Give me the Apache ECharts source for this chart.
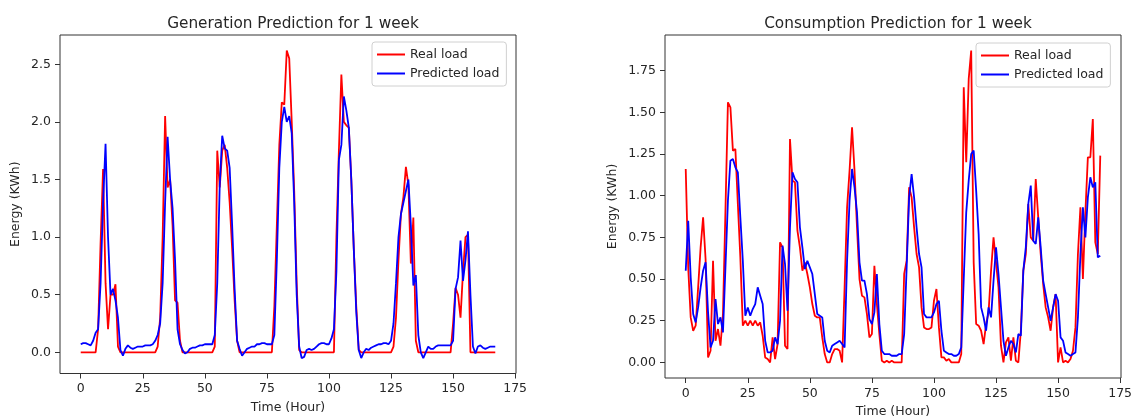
<!DOCTYPE html>
<html>
<head>
<meta charset="utf-8">
<script src="https://cdn.jsdelivr.net/npm/echarts@6/dist/echarts.min.js"></script>
<style>
  html, body { margin: 0; padding: 0; background: #fff; }
  #chart { width: 1131px; height: 416px; }
</style>
</head>
<body>
<div id="chart"></div>
<script>
// Hourly energy over one week (hours 0..167)
const genReal = [
  0, 0, 0, 0, 0, 0, 0, 0.2, 0.95, 1.59, 0.6, 0.2, 0.5, 0.5, 0.59, 0.05,
  0, 0, 0, 0, 0, 0, 0, 0, 0, 0, 0, 0, 0, 0, 0,
  0.05, 0.3, 1.0, 2.05, 1.43, 1.5, 1.1, 0.45, 0.43, 0.1,
  0, 0, 0, 0, 0, 0, 0, 0, 0, 0, 0, 0, 0,
  0.05, 1.75, 1.43, 1.75, 1.8, 1.6, 1.3, 0.9, 0.45, 0.1,
  0, 0, 0, 0, 0, 0, 0, 0, 0, 0, 0, 0, 0, 0,
  0.4, 1.1, 1.8, 2.17, 2.15, 2.62, 2.55, 2.0, 1.4, 0.6, 0.02,
  0, 0, 0, 0, 0, 0, 0, 0, 0, 0, 0, 0, 0, 0,
  1.0, 1.75, 2.41, 2.0, 1.97, 1.95, 1.5, 0.9, 0.4, 0.02,
  0, 0, 0, 0, 0, 0, 0, 0, 0, 0, 0, 0, 0,
  0.05, 0.3, 0.8, 1.2, 1.35, 1.61, 1.45, 0.77, 1.17, 0.1,
  0, 0, 0, 0, 0, 0, 0, 0, 0, 0, 0, 0, 0, 0,
  0.25, 0.56, 0.5, 0.3, 0.7, 1.0, 1.02,
  0, 0, 0, 0, 0, 0, 0, 0, 0, 0, 0
];

const genPred = [
  0.07, 0.08, 0.08, 0.07, 0.06, 0.1, 0.17, 0.2, 0.6, 1.3, 1.81, 1.0, 0.5, 0.55, 0.45, 0.3,
  0.02, -0.03, 0.03, 0.06, 0.04, 0.03, 0.04, 0.05, 0.05, 0.05, 0.06, 0.06, 0.06, 0.07,
  0.1, 0.15, 0.25, 0.6, 1.3, 1.87, 1.5, 1.25, 0.8, 0.2,
  0.07, 0.02, -0.01, 0.0, 0.03, 0.04, 0.04, 0.05, 0.06, 0.06, 0.07, 0.07, 0.07, 0.07,
  0.15, 0.6, 1.45, 1.88, 1.77, 1.75, 1.6, 1.1, 0.55, 0.1,
  0.03, -0.03, 0.0, 0.03, 0.04, 0.05, 0.05, 0.07, 0.07, 0.08, 0.08, 0.07, 0.07, 0.07,
  0.15, 0.8, 1.6, 2.0, 2.13, 2.0, 2.05, 1.9, 1.3, 0.5,
  0.05, -0.05, -0.04, 0.02, 0.03, 0.02, 0.03, 0.05, 0.07, 0.08, 0.08, 0.07, 0.07, 0.12,
  0.2, 0.7, 1.67, 1.8, 2.22, 2.1, 1.95, 1.5, 0.9, 0.35,
  0.02, -0.05, 0.0, 0.03, 0.02, 0.04, 0.05, 0.06, 0.07, 0.07, 0.08, 0.08, 0.07,
  0.1, 0.25, 0.6, 1.0, 1.2, 1.3, 1.4, 1.5, 1.1, 0.58, 0.67, 0.15,
  0.0, -0.05, 0.0, 0.05, 0.03, 0.03, 0.05, 0.06, 0.06, 0.06, 0.06, 0.06, 0.06,
  0.1, 0.55, 0.65, 0.97, 0.62, 0.8, 1.05, 0.5,
  0.05, -0.01, 0.05, 0.06, 0.04, 0.03, 0.04, 0.05, 0.05, 0.05
];

const conReal = [
  1.16, 0.57, 0.27, 0.19, 0.22, 0.45, 0.69, 0.87, 0.62, 0.03,
  0.07, 0.61, 0.13, 0.2, 0.1, 0.29, 0.91, 1.56, 1.53, 1.27,
  1.28, 0.95, 0.63, 0.22, 0.25, 0.22, 0.25, 0.22, 0.25, 0.22,
  0.24, 0.16, 0.03, 0.02, 0.0, 0.15, 0.02, 0.11, 0.72, 0.69,
  0.1, 0.08, 1.34, 1.09, 1.08, 0.79, 0.69, 0.55, 0.6, 0.53,
  0.45, 0.35, 0.28, 0.27, 0.27, 0.15, 0.05, 0.0, 0.0, 0.05,
  0.08, 0.08, 0.07, 0.0, 0.45, 0.93, 1.15, 1.41, 1.15, 0.81,
  0.5, 0.4, 0.39, 0.29, 0.15, 0.17, 0.58, 0.35, 0.17, 0.01,
  0.0, 0.01, 0.0, 0.01, 0.0, 0.0, 0.0, 0.0, 0.53, 0.61,
  1.05, 0.99, 0.81, 0.65, 0.57, 0.33, 0.21, 0.2, 0.2, 0.21,
  0.37, 0.44, 0.21, 0.03, 0.03, 0.01, 0.02, 0.0, 0.0, 0.0,
  0.0, 0.05, 1.65, 1.2, 1.7, 1.87, 0.6, 0.23, 0.22, 0.19,
  0.11, 0.23, 0.3, 0.55, 0.75, 0.6, 0.45, 0.1, 0.0, 0.12,
  0.15, 0.01, 0.15, 0.01, 0.0, 0.19, 0.55, 0.65, 0.95, 0.75,
  0.73, 1.1, 0.87, 0.65, 0.47, 0.33, 0.27, 0.19, 0.33, 0.41,
  0.0, 0.09, 0.0, 0.01, 0.0, 0.02, 0.07, 0.21, 0.65, 0.93,
  0.5, 0.9, 1.23, 1.23, 1.46, 0.72, 0.65, 1.24
];

const conPred = [
  0.55, 0.85, 0.51, 0.29, 0.24, 0.33, 0.45, 0.55, 0.6, 0.3,
  0.09, 0.13, 0.38, 0.23, 0.27, 0.18, 0.57, 0.97, 1.21, 1.22,
  1.17, 1.14, 0.87, 0.61, 0.28, 0.33, 0.28, 0.32, 0.35, 0.45,
  0.4, 0.35, 0.13, 0.06, 0.06, 0.07, 0.15, 0.11, 0.25, 0.7,
  0.59, 0.31, 0.81, 1.14, 1.1, 1.08, 0.81, 0.69, 0.56, 0.61,
  0.57, 0.53, 0.41, 0.29, 0.28, 0.27, 0.13, 0.07, 0.06, 0.1,
  0.11, 0.12, 0.13, 0.11, 0.09, 0.61, 0.97, 1.16, 1.05, 0.9,
  0.6, 0.49, 0.49, 0.41, 0.26, 0.23, 0.3, 0.53, 0.23, 0.07,
  0.05, 0.05, 0.05, 0.04, 0.04, 0.04, 0.05, 0.05, 0.17, 0.57,
  0.99, 1.13, 0.99, 0.81, 0.65, 0.57, 0.29, 0.27, 0.27, 0.27,
  0.3, 0.35, 0.37, 0.19, 0.07, 0.06, 0.05, 0.05, 0.04, 0.04,
  0.05, 0.09, 0.5, 0.9, 1.09, 1.25, 1.27, 1.03, 0.77, 0.33,
  0.27, 0.19, 0.33, 0.27, 0.49, 0.69, 0.53, 0.33, 0.13, 0.04,
  0.09, 0.13, 0.11, 0.06, 0.17, 0.16, 0.55, 0.69, 0.95, 1.06,
  0.73, 0.71, 0.87, 0.69, 0.49, 0.41, 0.33, 0.25, 0.33, 0.41,
  0.37, 0.15, 0.13, 0.06, 0.05, 0.04, 0.05, 0.06, 0.27, 0.65,
  0.93, 0.75, 0.99, 1.11, 1.05, 1.08, 0.63, 0.64
];

const hourTicks = [0, 25, 50, 75, 100, 125, 150, 175];
const genTicks = [0, 0.5, 1.0, 1.5, 2.0, 2.5];
const conTicks = [0, 0.25, 0.5, 0.75, 1.0, 1.25, 1.5, 1.75];

const titles = ['Generation Prediction for 1 week', 'Consumption Prediction for 1 week'];
const seriesNames = ['Real load', 'Predicted load'];

const FONT = 'DejaVu Sans';
const TEXT = '#262626';

const toPairs = arr => arr.map((v, i) => [i, v]);

function xAxisFor(gridIndex, gap) {
  return {
    type: 'value', gridIndex,
    min: -8.35, max: 175.35,
    name: 'Time (Hour)', nameLocation: 'middle', nameGap: gap,
    nameTextStyle: { fontFamily: FONT, fontSize: 12.5, color: TEXT },
    axisLine: { show: false, onZero: false },
    axisTick: { show: true, length: 5, lineStyle: { color: '#333' }, customValues: hourTicks },
    axisLabel: { fontFamily: FONT, fontSize: 12.5, color: TEXT, margin: 9, customValues: hourTicks },
    splitLine: { show: false }
  };
}

function yAxisFor(gridIndex, min, max, ticks, digits, gap) {
  return {
    type: 'value', gridIndex, min, max,
    name: 'Energy (KWh)', nameLocation: 'middle', nameGap: gap, nameRotate: 90,
    nameTextStyle: { fontFamily: FONT, fontSize: 12.5, color: TEXT },
    axisLine: { show: false, onZero: false },
    axisTick: { show: true, length: 5, lineStyle: { color: '#333' }, customValues: ticks },
    axisLabel: {
      fontFamily: FONT, fontSize: 12.5, color: TEXT, margin: 9, customValues: ticks,
      formatter: v => Number(v).toFixed(digits)
    },
    splitLine: { show: false }
  };
}

function lineSeries(name, data, color, idx) {
  return {
    type: 'line', name, data: toPairs(data),
    xAxisIndex: idx, yAxisIndex: idx,
    showSymbol: false, symbol: 'none',
    lineStyle: { color, width: 1.8 },
    itemStyle: { color },
    animation: false
  };
}

function legendAt(left, top) {
  return {
    data: seriesNames,
    orient: 'vertical', left, top,
    icon: 'rect', itemWidth: 28, itemHeight: 2, itemGap: 6,
    padding: [6, 7, 6, 5],
    backgroundColor: 'rgba(255,255,255,0.85)',
    borderColor: '#d0d0d0', borderWidth: 1, borderRadius: 3,
    textStyle: { fontFamily: FONT, fontSize: 12.5, color: TEXT },
    selectedMode: false
  };
}

const chart = echarts.init(document.getElementById('chart'), null, { renderer: 'canvas' });

chart.setOption({
  backgroundColor: '#ffffff',
  animation: false,
  title: [
    { text: titles[0], left: 288, top: 12, textAlign: 'center',
      textStyle: { fontFamily: FONT, fontSize: 15.3, fontWeight: 'normal', color: TEXT } },
    { text: titles[1], left: 893, top: 12, textAlign: 'center',
      textStyle: { fontFamily: FONT, fontSize: 15.3, fontWeight: 'normal', color: TEXT } }
  ],
  grid: [
    { left: 60, top: 35, width: 456, height: 338.5, outerBoundsMode: 'none', containLabel: false,
      show: true, borderColor: '#333', borderWidth: 1, backgroundColor: 'transparent' },
    { left: 665, top: 35, width: 456, height: 343, outerBoundsMode: 'none', containLabel: false,
      show: true, borderColor: '#333', borderWidth: 1, backgroundColor: 'transparent' }
  ],
  xAxis: [xAxisFor(0, 28), xAxisFor(1, 27)],
  yAxis: [
    yAxisFor(0, -0.184, 2.754, genTicks, 1, 38),
    yAxisFor(1, -0.0935, 1.9635, conTicks, 2, 46)
  ],
  legend: [legendAt(372, 42), legendAt(976, 43)],
  series: [
    lineSeries(seriesNames[0], genReal, '#ff0000', 0),
    lineSeries(seriesNames[1], genPred, '#0000ff', 0),
    lineSeries(seriesNames[0], conReal, '#ff0000', 1),
    lineSeries(seriesNames[1], conPred, '#0000ff', 1)
  ]
});
</script>
</body>
</html>
